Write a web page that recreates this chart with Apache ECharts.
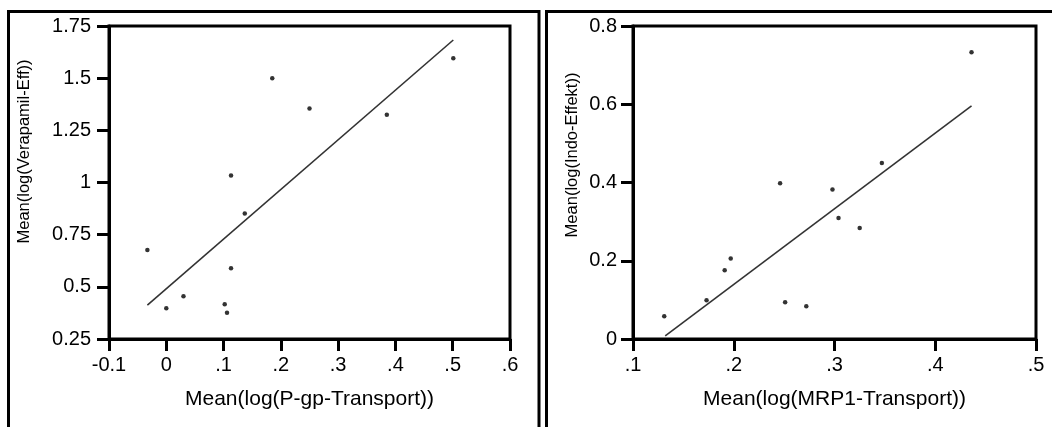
<!DOCTYPE html>
<html>
<head>
<meta charset="utf-8">
<script src="https://cdn.jsdelivr.net/npm/echarts@6/dist/echarts.min.js"></script>
<style>
  html, body { margin: 0; padding: 0; background: #fff; }
  #chart { width: 1052px; height: 427px; }
</style>
</head>
<body>
<div id="chart"></div>
<script>
// linkes Diagramm: P-gp
var pgpX = [-0.033, 0.0, 0.03, 0.102, 0.106, 0.113, 0.113, 0.137, 0.185, 0.25, 0.385, 0.501];
var pgpY = [0.677, 0.397, 0.455, 0.416, 0.376, 0.589, 1.034, 0.851, 1.50, 1.355, 1.325, 1.595];
var pgpFit = [[-0.033, 0.412], [0.501, 1.683]];
var pgpXTicks = ['-0.1', '0', '.1', '.2', '.3', '.4', '.5', '.6'];
var pgpYTicks = ['0.25', '0.5', '0.75', '1', '1.25', '1.5', '1.75'];

// rechtes Diagramm: MRP1
var mrpX = [0.131, 0.173, 0.191, 0.197, 0.246, 0.251, 0.272, 0.298, 0.304, 0.325, 0.347, 0.436];
var mrpY = [0.058, 0.099, 0.176, 0.206, 0.398, 0.094, 0.084, 0.382, 0.309, 0.284, 0.45, 0.733];
var mrpFit = [[0.132, 0.008], [0.436, 0.596]];
var mrpXTicks = ['.1', '.2', '.3', '.4', '.5'];
var mrpYTicks = ['0', '0.2', '0.4', '0.6', '0.8'];

var font = 'Arial, "Liberation Sans", sans-serif';

function pairs(xs, ys) {
  return xs.map(function (x, i) { return [x, ys[i]]; });
}

function tickFmt(labels, min, step) {
  return function (v) {
    return labels[Math.round((v - min) / step)];
  };
}

function xAxisOpt(idx, min, max, step, labels, name) {
  return {
    gridIndex: idx, type: 'value', min: min, max: max, interval: step,
    name: name, nameLocation: 'middle', nameGap: 50,
    nameTextStyle: { color: '#000', fontSize: 21, fontFamily: font },
    axisLine: { onZero: false, lineStyle: { color: '#000', width: 3 } },
    axisTick: { length: 12, lineStyle: { color: '#000', width: 3 } },
    axisLabel: { color: '#000', fontSize: 20, fontFamily: font, margin: 16,
      showMinLabel: true, showMaxLabel: true, formatter: tickFmt(labels, min, step) },
    splitLine: { show: false }
  };
}

// Achsentitel sitzt im Original etwas oberhalb der Mitte -> padding links
function yAxisOpt(idx, min, max, step, labels, name, gap, margin, shift) {
  return {
    gridIndex: idx, type: 'value', min: min, max: max, interval: step,
    name: name, nameLocation: 'middle', nameGap: gap,
    nameTextStyle: { color: '#000', fontSize: 16.5, fontFamily: font, padding: [0, 0, 0, shift] },
    axisLine: { onZero: false, lineStyle: { color: '#000', width: 3 } },
    axisTick: { length: 12, lineStyle: { color: '#000', width: 3 } },
    axisLabel: { color: '#000', fontSize: 20, fontFamily: font, margin: margin,
      showMinLabel: true, showMaxLabel: true, formatter: tickFmt(labels, min, step) },
    splitLine: { show: false }
  };
}

var chart = echarts.init(document.getElementById('chart'), null, { renderer: 'canvas' });

var option = {
  backgroundColor: '#fff',
  animation: false,
  grid: [
    { left: 109, top: 26, width: 401, height: 313, show: true, borderColor: '#000', borderWidth: 3 },
    { left: 633, top: 26, width: 403, height: 313, show: true, borderColor: '#000', borderWidth: 3 }
  ],
  xAxis: [
    xAxisOpt(0, -0.1, 0.6, 0.1, pgpXTicks, 'Mean(log(P-gp-Transport))'),
    xAxisOpt(1, 0.1, 0.5, 0.1, mrpXTicks, 'Mean(log(MRP1-Transport))')
  ],
  yAxis: [
    yAxisOpt(0, 0.25, 1.75, 0.25, pgpYTicks, 'Mean(log(Verapamil-Eff))', 76, 18, 62),
    yAxisOpt(1, 0, 0.8, 0.2, mrpYTicks, 'Mean(log(Indo-Effekt))', 52, 16, 55)
  ],
  series: [
    { type: 'line', xAxisIndex: 0, yAxisIndex: 0, data: pgpFit, symbol: 'none',
      lineStyle: { color: '#333', width: 1.6 } },
    { type: 'scatter', xAxisIndex: 0, yAxisIndex: 0, data: pairs(pgpX, pgpY),
      symbol: 'circle', symbolSize: 4.5, itemStyle: { color: '#000' } },
    { type: 'line', xAxisIndex: 1, yAxisIndex: 1, data: mrpFit, symbol: 'none',
      lineStyle: { color: '#333', width: 1.6 } },
    { type: 'scatter', xAxisIndex: 1, yAxisIndex: 1, data: pairs(mrpX, mrpY),
      symbol: 'circle', symbolSize: 4.5, itemStyle: { color: '#000' } }
  ],
  graphic: [
    // äußere Rahmen
    { type: 'polyline', silent: true,
      shape: { points: [[8.5, 440], [8.5, 11.5], [539, 11.5], [539, 440]] },
      style: { stroke: '#000', lineWidth: 3, fill: null } },
    { type: 'polyline', silent: true,
      shape: { points: [[546.5, 440], [546.5, 11.5], [1060, 11.5]] },
      style: { stroke: '#000', lineWidth: 3, fill: null } }
  ]
};

chart.setOption(option);
</script>
</body>
</html>
